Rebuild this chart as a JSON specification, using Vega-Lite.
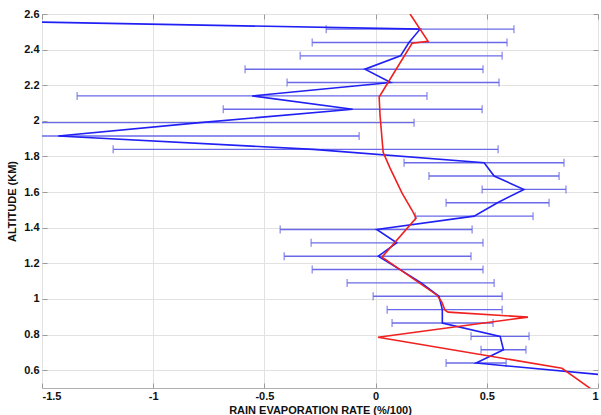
{
  "$schema": "https://vega.github.io/schema/vega-lite/v6.json",
  "width": 556,
  "height": 374,
  "autosize": {"type": "none"},
  "padding": {"left": 42, "top": 14, "right": 3, "bottom": 27},
  "background": "white",
  "config": {
    "font": "Liberation Sans",
    "view": {"stroke": "#b0b0b0", "strokeWidth": 1},
    "axis": {
      "domain": false,
      "labelFont": "Liberation Sans",
      "labelFontWeight": "bold",
      "labelFontSize": 11,
      "labelColor": "#111111",
      "tickColor": "#9a9a9a",
      "tickSize": -5,
      "gridColor": "#e2e2e2",
      "gridWidth": 1,
      "titleFont": "Liberation Sans",
      "titleFontWeight": "bold",
      "titleFontSize": 11,
      "titleColor": "#111111"
    }
  },
  "datasets": {
    "profile": [
      {"alt": 2.59, "mean": -3.03, "lo": null, "hi": null},
      {"alt": 2.515, "mean": 0.2, "lo": -0.222, "hi": 0.622},
      {"alt": 2.44, "mean": 0.15, "lo": -0.285, "hi": 0.591},
      {"alt": 2.365, "mean": 0.112, "lo": -0.339, "hi": 0.569},
      {"alt": 2.29, "mean": -0.048, "lo": -0.587, "hi": 0.483},
      {"alt": 2.215, "mean": 0.068, "lo": -0.398, "hi": 0.555},
      {"alt": 2.14, "mean": -0.555, "lo": -1.342, "hi": 0.231},
      {"alt": 2.065, "mean": -0.103, "lo": -0.685, "hi": 0.479},
      {"alt": 1.99, "mean": -0.79, "lo": -1.753, "hi": 0.173},
      {"alt": 1.915, "mean": -1.427, "lo": -2.78, "hi": -0.074},
      {"alt": 1.84, "mean": -0.28, "lo": -1.18, "hi": 0.551},
      {"alt": 1.765, "mean": 0.488, "lo": 0.128, "hi": 0.847},
      {"alt": 1.69, "mean": 0.533, "lo": 0.24, "hi": 0.825},
      {"alt": 1.615, "mean": 0.667, "lo": 0.479, "hi": 0.856},
      {"alt": 1.54, "mean": 0.548, "lo": 0.317, "hi": 0.78},
      {"alt": 1.465, "mean": 0.443, "lo": 0.178, "hi": 0.708},
      {"alt": 1.39, "mean": 0.005, "lo": -0.429, "hi": 0.434},
      {"alt": 1.315, "mean": 0.095, "lo": -0.29, "hi": 0.483},
      {"alt": 1.24, "mean": 0.012, "lo": -0.411, "hi": 0.429},
      {"alt": 1.165, "mean": 0.11, "lo": -0.285, "hi": 0.483},
      {"alt": 1.09, "mean": 0.205, "lo": -0.128, "hi": 0.533},
      {"alt": 1.015, "mean": 0.285, "lo": -0.011, "hi": 0.569},
      {"alt": 0.94, "mean": 0.3, "lo": 0.052, "hi": 0.569},
      {"alt": 0.865, "mean": 0.3, "lo": 0.074, "hi": 0.528},
      {"alt": 0.79, "mean": 0.56, "lo": 0.429, "hi": 0.69},
      {"alt": 0.715, "mean": 0.575, "lo": 0.474, "hi": 0.676},
      {"alt": 0.64, "mean": 0.452, "lo": 0.317, "hi": 0.587},
      {"alt": 0.565, "mean": 1.1, "lo": null, "hi": null}
    ],
    "model": [
      {"alt": 2.6, "rate": 0.155},
      {"alt": 2.447, "rate": 0.236},
      {"alt": 2.436, "rate": 0.164},
      {"alt": 2.134, "rate": 0.016},
      {"alt": 2.03, "rate": 0.02},
      {"alt": 1.824, "rate": 0.034},
      {"alt": 1.735, "rate": 0.065},
      {"alt": 1.594, "rate": 0.119},
      {"alt": 1.498, "rate": 0.164},
      {"alt": 1.454, "rate": 0.182},
      {"alt": 1.235, "rate": 0.029},
      {"alt": 1.021, "rate": 0.276},
      {"alt": 0.982, "rate": 0.298},
      {"alt": 0.937, "rate": 0.312},
      {"alt": 0.926, "rate": 0.326},
      {"alt": 0.898, "rate": 0.685},
      {"alt": 0.785, "rate": 0.011},
      {"alt": 0.611, "rate": 0.838},
      {"alt": 0.48, "rate": 0.985}
    ]
  },
  "layer": [
    {
      "data": {"name": "profile"},
      "transform": [{"filter": "datum.lo != null"}],
      "mark": {"type": "rule", "color": "#6a6ae8", "strokeWidth": 1.4, "clip": true},
      "encoding": {
        "x": {
          "field": "lo",
          "type": "quantitative",
          "scale": {"domain": [-1.5, 1], "nice": false, "zero": false},
          "axis": {
            "orient": "bottom",
            "values": [-1.5, -1, -0.5, 0, 0.5, 1],
            "labelExpr": "'' + datum.value",
            "labelPadding": 7,
            "title": "RAIN EVAPORATION RATE (%/100)",
            "titleY": 16
          }
        },
        "x2": {"field": "hi"},
        "y": {
          "field": "alt",
          "type": "quantitative",
          "scale": {"domain": [0.5, 2.6], "nice": false, "zero": false},
          "axis": {
            "orient": "left",
            "values": [0.6, 0.8, 1, 1.2, 1.4, 1.6, 1.8, 2, 2.2, 2.4, 2.6],
            "labelExpr": "'' + datum.value",
            "labelPadding": 8,
            "title": "ALTITUDE (KM)",
            "titleX": -30,
            "titleBaseline": "middle"
          }
        }
      }
    },
    {
      "data": {"name": "profile"},
      "transform": [{"filter": "datum.lo != null"}],
      "mark": {"type": "tick", "orient": "vertical", "size": 8, "thickness": 1.4, "color": "#6a6ae8", "clip": true},
      "encoding": {
        "x": {"field": "lo", "type": "quantitative", "axis": null},
        "y": {"field": "alt", "type": "quantitative", "axis": null}
      }
    },
    {
      "data": {"name": "profile"},
      "transform": [{"filter": "datum.hi != null"}],
      "mark": {"type": "tick", "orient": "vertical", "size": 8, "thickness": 1.4, "color": "#6a6ae8", "clip": true},
      "encoding": {
        "x": {"field": "hi", "type": "quantitative", "axis": null},
        "y": {"field": "alt", "type": "quantitative", "axis": null}
      }
    },
    {
      "data": {"name": "profile"},
      "mark": {"type": "line", "color": "#2020f4", "strokeWidth": 1.6, "clip": true},
      "encoding": {
        "x": {"field": "mean", "type": "quantitative", "axis": null},
        "y": {"field": "alt", "type": "quantitative", "axis": null},
        "order": {"field": "alt", "type": "quantitative"}
      }
    },
    {
      "data": {"name": "model"},
      "mark": {"type": "line", "color": "#f02020", "strokeWidth": 1.6, "clip": true},
      "encoding": {
        "x": {
          "field": "rate",
          "type": "quantitative",
          "axis": {
            "orient": "top",
            "values": [-1.5, -1, -0.5, 0, 0.5, 1],
            "labels": false,
            "grid": false,
            "title": null
          }
        },
        "y": {
          "field": "alt",
          "type": "quantitative",
          "axis": {
            "orient": "right",
            "values": [0.6, 0.8, 1, 1.2, 1.4, 1.6, 1.8, 2, 2.2, 2.4, 2.6],
            "labels": false,
            "grid": false,
            "title": null
          }
        },
        "order": {"field": "alt", "type": "quantitative"}
      }
    }
  ],
  "resolve": {"axis": {"x": "independent", "y": "independent"}}
}
